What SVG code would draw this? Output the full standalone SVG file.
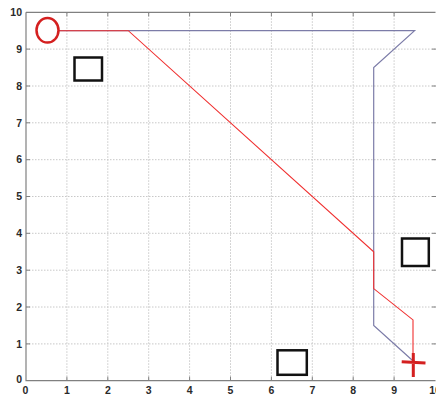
<svg xmlns="http://www.w3.org/2000/svg" width="436" height="397" viewBox="0 0 436 397">
<style>
.grid{stroke:#c8c8c8;stroke-width:1;stroke-dasharray:1.5 1.5;fill:none}
.axis{stroke:#808080;stroke-width:1.2;fill:none}
.tk{stroke:#808080;stroke-width:1}
.lbl{font-family:"Liberation Sans",Arial,sans-serif;font-size:10.5px;font-weight:bold;fill:#2a2a2a}
.obs{fill:none;stroke:#111;stroke-width:2.5}
</style>
<rect width="436" height="397" fill="#fff"/>
<g id="grid">
<path class="grid" d="M66.9 12.3V380.7M107.8 12.3V380.7M148.7 12.3V380.7M189.6 12.3V380.7M230.5 12.3V380.7M271.4 12.3V380.7M312.3 12.3V380.7M353.2 12.3V380.7M394.1 12.3V380.7"/>
<path class="grid" d="M26 343.9H435M26 307H435M26 270.2H435M26 233.3H435M26 196.5H435M26 159.7H435M26 122.8H435M26 86H435M26 49.1H435"/>
</g>
<g id="axes">
<path class="axis" d="M26 12.3V380.7H435.5M26 12.3H435.5"/>
<path class="tk" d="M66.9 380.7v-4M107.8 380.7v-4M148.7 380.7v-4M189.6 380.7v-4M230.5 380.7v-4M271.4 380.7v-4M312.3 380.7v-4M353.2 380.7v-4M394.1 380.7v-4M66.9 12.3v4M107.8 12.3v4M148.7 12.3v4M189.6 12.3v4M230.5 12.3v4M271.4 12.3v4M312.3 12.3v4M353.2 12.3v4M394.1 12.3v4"/>
<path class="tk" d="M26 343.9h4M26 307h4M26 270.2h4M26 233.3h4M26 196.5h4M26 159.7h4M26 122.8h4M26 86h4M26 49.1h4M436 343.9h-4M436 307h-4M436 270.2h-4M436 233.3h-4M436 196.5h-4M436 159.7h-4M436 122.8h-4M436 86h-4M436 49.1h-4"/>
<g class="lbl" text-anchor="end">
<text x="22" y="16">10</text><text x="22" y="52.8">9</text><text x="22" y="89.7">8</text><text x="22" y="126.5">7</text><text x="22" y="163.4">6</text><text x="22" y="200.2">5</text><text x="22" y="237">4</text><text x="22" y="273.9">3</text><text x="22" y="310.7">2</text><text x="22" y="347.6">1</text><text x="22" y="383">0</text>
</g>
<g class="lbl" text-anchor="middle">
<text x="25.5" y="394">0</text><text x="66.9" y="394">1</text><text x="107.8" y="394">2</text><text x="148.7" y="394">3</text><text x="189.6" y="394">4</text><text x="230.5" y="394">5</text><text x="271.4" y="394">6</text><text x="312.3" y="394">7</text><text x="353.2" y="394">8</text><text x="394.1" y="394">9</text><text x="435" y="394">10</text>
</g>
</g>
<g id="connectors" fill="none">
<path d="M58 30.7H414.6L373.7 67.6V325.4L412 360" stroke="#7c7ca8" stroke-width="1.2"/>
<path d="M58 30.7H128.3L373.7 251.8V288.6L413 319.9V362.3" stroke="#f03030" stroke-width="1.1"/>
</g>
<g id="start"><ellipse cx="47.5" cy="30.3" rx="11" ry="12.3" fill="none" stroke="#d42020" stroke-width="2.5"/></g>
<g id="goal"><path d="M401.7 361.8L425.5 363M413.3 353V377" stroke="#d42020" stroke-width="3" fill="none"/></g>
<g id="obstacle1"><rect class="obs" x="74.5" y="57.5" width="27.5" height="23"/></g>
<g id="obstacle2"><rect class="obs" x="402" y="238.5" width="26.8" height="27.5"/></g>
<g id="obstacle3"><rect class="obs" x="277.5" y="350.3" width="29.3" height="24.5"/></g>
</svg>
